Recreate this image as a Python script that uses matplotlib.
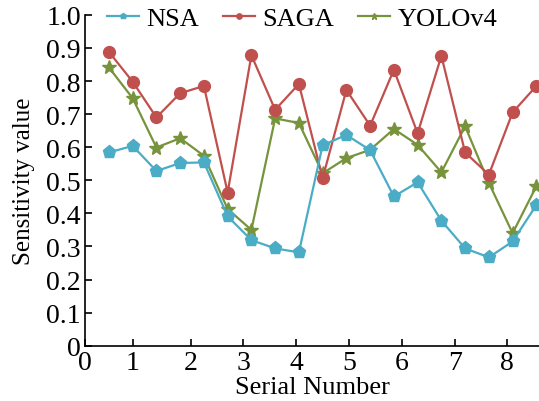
import numpy as np
import matplotlib
matplotlib.use('Agg')
import matplotlib.pyplot as plt

plt.rcParams['font.family'] = ['Liberation Serif', 'DejaVu Serif']
plt.rcParams['mathtext.fontset'] = 'stix'

# serial positions (19 samples, step 0.45)
x = np.arange(1, 20) * 0.45

nsa = [0.584, 0.604, 0.528, 0.552, 0.554, 0.391, 0.319, 0.294, 0.282, 0.606,
       0.637, 0.591, 0.451, 0.494, 0.378, 0.294, 0.267, 0.315, 0.425]
saga = [0.888, 0.798, 0.690, 0.763, 0.785, 0.463, 0.878, 0.713, 0.791, 0.506,
        0.773, 0.665, 0.834, 0.642, 0.876, 0.584, 0.517, 0.705, 0.785]
yolo = [0.841, 0.748, 0.599, 0.627, 0.574, 0.413, 0.350, 0.687, 0.673, 0.521,
        0.567, 0.592, 0.655, 0.607, 0.524, 0.663, 0.492, 0.340, 0.482]

xtick_pos = [0, 0.9, 2, 3, 4, 5, 6, 7, 8]
xtick_lab = ['0', '1', '2', '3', '4', '5', '6', '7', '8']
yticks = [0, 0.1, 0.2, 0.3, 0.4, 0.5, 0.6, 0.7, 0.8, 0.9, 1.0]
ytick_lab = ['0', '0.1', '0.2', '0.3', '0.4', '0.5', '0.6', '0.7', '0.8', '0.9', '1.0']

fig = plt.figure(figsize=(5.39, 4.02), dpi=100)
ax = fig.add_axes([0.158, 0.1376, 0.842, 0.823])

ax.plot(x, nsa, color='#4BACC6', marker='p', markersize=9.5, lw=1.6, label='NSA', zorder=4)
ax.plot(x, saga, color='#C0504D', marker='o', markersize=8.5, lw=1.6, label='SAGA', zorder=3)
ax.plot(x, yolo, color='#77933C', marker='*', markersize=10.5, lw=1.6, label='YOLOv4', zorder=2)

ax.set_xlim(0, 8.6)
ax.set_ylim(0, 1.0)
ax.set_xticks(xtick_pos)
ax.set_xticklabels(xtick_lab)
ax.set_yticks(yticks)
ax.set_yticklabels(ytick_lab)
ax.tick_params(direction='in', length=5, width=1.2, labelsize=20, pad=3)
for s in ['top', 'right']:
    ax.spines[s].set_visible(False)
for s in ['left', 'bottom']:
    ax.spines[s].set_linewidth(1.2)

ax.set_xlabel('Serial Number', fontsize=19, labelpad=1)
ax.set_ylabel('Sensitivity value', fontsize=18, labelpad=8)

leg = ax.legend(loc='center left', bbox_to_anchor=(0.048, 0.99), ncol=3, frameon=False,
                fontsize=19, handlelength=1.2, handletextpad=0.3, columnspacing=0.9,
                markerscale=0.45, borderpad=0, borderaxespad=0)

fig.savefig('out.png', dpi=100)
